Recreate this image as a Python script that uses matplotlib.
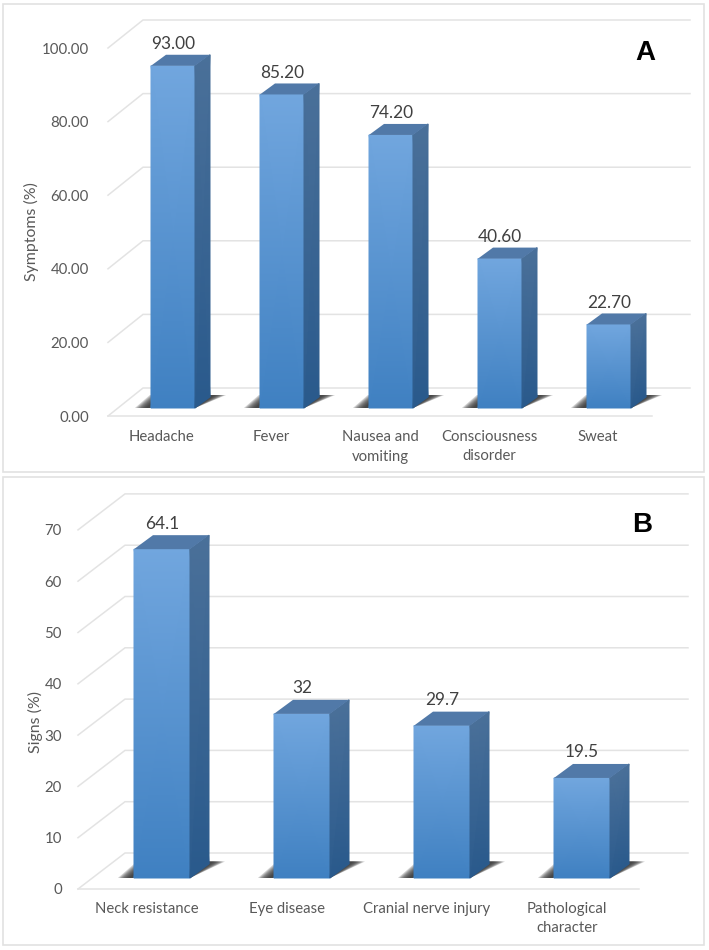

# -*- coding: utf-8 -*-
"""Two fake-3D bar panels, symptoms and signs"""
import numpy as np
import matplotlib
matplotlib.use("Agg")
import matplotlib.pyplot as plt
from matplotlib.colors import LinearSegmentedColormap
from matplotlib.patches import Polygon, Rectangle

plt.rcParams['font.family'] = ['Lato', 'DejaVu Sans']

W, H = 709, 950

symptom_names = ["Headache", "Fever", "Nausea and\nvomiting", "Consciousness\ndisorder", "Sweat"]
symptom_values = [93.00, 85.20, 74.20, 40.60, 22.70]
symptom_labels = ["93.00", "85.20", "74.20", "40.60", "22.70"]
symptom_ticks = [0, 20, 40, 60, 80, 100]
symptom_ticklabels = ["0.00", "20.00", "40.00", "60.00", "80.00", "100.00"]

sign_names = ["Neck resistance", "Eye disease", "Cranial nerve injury", "Pathological\ncharacter"]
sign_values = [64.1, 32, 29.7, 19.5]
sign_labels = ["64.1", "32", "29.7", "19.5"]
sign_ticks = [0, 10, 20, 30, 40, 50, 60, 70]
sign_ticklabels = ["0", "10", "20", "30", "40", "50", "60", "70"]

GRID = "#e3e3e3"
TEXT = "#595959"
FRONT = LinearSegmentedColormap.from_list("front", ["#3f80c1", "#5a9bdb", "#71a6de"])
SIDE = LinearSegmentedColormap.from_list("side", ["#2a5a8c", "#3a6a9b", "#4a7099"])
TOP = "#5179a8"


def gradient_face(ax, xb, yb, xt, yt, cmap):
    # xb,yb bottom edge (2 pts), xt,yt top edge (2 pts)
    X = np.array([xb, xt])
    Y = np.array([yb, yt])
    C = np.array([[0.0, 0.0], [1.0, 1.0]])
    ax.pcolormesh(X, Y, C, cmap=cmap, vmin=0, vmax=1, shading="gouraud", zorder=4)


def draw_panel(box, names, values, labels, ticks, ticklabels, ylabel, letter, p):
    left, top, right, bottom = box
    fig.add_artist(Rectangle((left / W, 1 - bottom / H), (right - left) / W, (bottom - top) / H,
                             transform=fig.transFigure, fc="none", ec="#e2e2e2", lw=1.2))
    ax = fig.add_axes([left / W, 1 - bottom / H, (right - left) / W, (bottom - top) / H])
    ax.axis("off")
    px = lambda v: (v - p["x0"]) / p["step"]        # pixel column -> category units
    sx = 1.0 / p["step"]
    sy = 1.0 / p["scale"]

    # wall, floor
    fx0, fx1 = px(p["floor_left"]), px(p["floor_right"])
    fy = -p["floor_drop"] * sy
    bdx, bdy = p["back"][0] * sx, p["back"][1] * sy
    bx1 = px(p["back_right"])
    for t in ticks:
        ax.plot([fx0, fx0 + bdx, bx1], [t + fy, t + fy + bdy, t + fy + bdy],
                color=GRID, lw=1.1, zorder=1, solid_joinstyle="miter")
        if t == 0:
            ax.plot([fx0, fx1], [fy, fy], color=GRID, lw=1.1, zorder=1)
    for t, s in zip(ticks, ticklabels):
        ax.text(px(p["tick_x"]), t + fy, s, ha="right", va="center_baseline",
                color=TEXT, fontsize=10.8)

    hw = p["bar_w"] / 2 * sx
    dx, dy = p["depth"][0] * sx, p["depth"][1] * sy
    sh = p["shadow"] * sx
    for i, (v, name, lab) in enumerate(zip(values, names, labels)):
        # floor shadow, stacked so it fades out at the tips
        for a in np.linspace(0.35, 1.15, 9):
            ext = sh * a
            ax.add_patch(Polygon([(i - hw - ext, 0), (i + hw, 0), (i + hw + dx + ext, dy * 1.18),
                                  (i - hw - ext + dx, dy * 1.18)],
                                 fc="#333333", ec="none", alpha=0.22, zorder=2))
        gradient_face(ax, [i - hw, i + hw], [0, 0], [i - hw, i + hw], [v, v], FRONT)
        gradient_face(ax, [i + hw, i + hw + dx], [0, dy], [i + hw, i + hw + dx], [v, v + dy], SIDE)
        ax.add_patch(Polygon([(i - hw, v), (i + hw, v), (i + hw + dx, v + dy), (i - hw + dx, v + dy)],
                             fc=TOP, ec="none", zorder=5))
        ax.text(i, v + dy + p["lab_gap"] * sy, lab, ha="center", va="center_baseline",
                color="#404040", fontsize=12.4, zorder=6)
        ax.text(i + p["cat_shift"] * sx, (p["y0"] - p["cat_y"]) * sy, name, ha="center", va="top",
                color=TEXT, fontsize=10.7, linespacing=1.5)

    ax.text(px(p["title_x"]), (p["y0"] - p["title_y"]) * sy, ylabel, rotation=90,
            ha="center", va="center", color=TEXT, fontsize=11.4)
    ax.text(px(p["letter"][0]), (p["y0"] - p["letter"][1]) * sy, letter, ha="center", va="center",
            color="black", fontsize=20, fontweight="bold", family=["Liberation Sans"])

    # limits last, the meshes would autoscale otherwise
    ax.set_xlim(px(left), px(right))
    ax.set_ylim((p["y0"] - bottom) * sy, (p["y0"] - top) * sy)


fig = plt.figure(figsize=(W / 100, H / 100), dpi=100, facecolor="white")

draw_panel((3, 4, 704, 472), symptom_names, symptom_values, symptom_labels,
           symptom_ticks, symptom_ticklabels, "Symptoms (%)", "A",
           dict(x0=173, step=109, y0=408, scale=3.68, bar_w=44, depth=(15, 11), back=(35, 28),
                floor_left=108, floor_right=652, back_right=690, floor_drop=8, tick_x=89,
                lab_gap=12, cat_shift=-11, cat_y=430, title_x=31, title_y=232,
                letter=(645, 53), shadow=14))

draw_panel((3, 477, 704, 945), sign_names, sign_values, sign_labels,
           sign_ticks, sign_ticklabels, "Signs (%)", "B",
           dict(x0=162, step=140, y0=878, scale=5.13, bar_w=56, depth=(19, 14), back=(47, 36),
                floor_left=78, floor_right=639, back_right=688, floor_drop=11, tick_x=62,
                lab_gap=13, cat_shift=-15, cat_y=902, title_x=35, title_y=722,
                letter=(642, 525), shadow=14))

fig.savefig("out.png", dpi=100)
